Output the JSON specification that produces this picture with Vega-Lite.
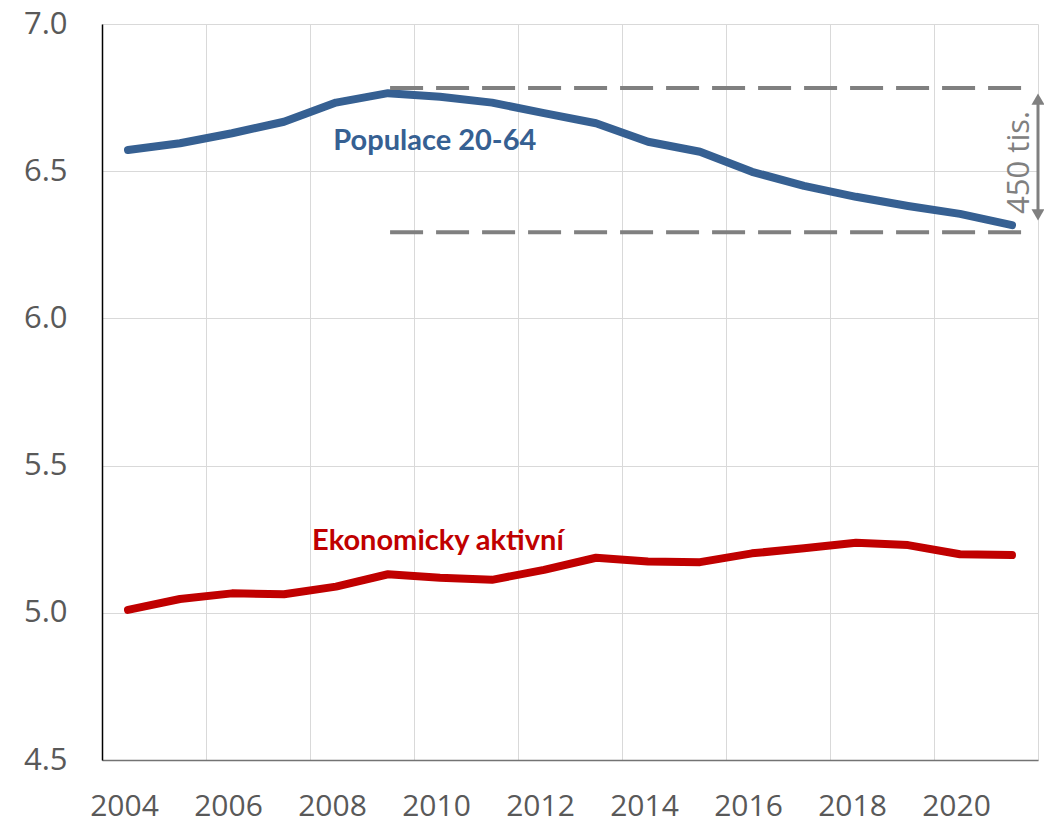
{
  "$schema": "https://vega.github.io/schema/vega-lite/v6.json",
  "autosize": {"type": "none"},
  "width": 936,
  "height": 736,
  "padding": {"left": 102, "top": 24, "right": 6, "bottom": 63},
  "background": "white",
  "config": {"view": {"stroke": null}},
  "datasets": {
    "series": [
      {"year": 2004, "series": "Populace 20-64", "value": 6.572},
      {"year": 2005, "series": "Populace 20-64", "value": 6.595},
      {"year": 2006, "series": "Populace 20-64", "value": 6.629},
      {"year": 2007, "series": "Populace 20-64", "value": 6.668},
      {"year": 2008, "series": "Populace 20-64", "value": 6.733},
      {"year": 2009, "series": "Populace 20-64", "value": 6.765},
      {"year": 2010, "series": "Populace 20-64", "value": 6.753},
      {"year": 2011, "series": "Populace 20-64", "value": 6.733},
      {"year": 2012, "series": "Populace 20-64", "value": 6.697},
      {"year": 2013, "series": "Populace 20-64", "value": 6.663},
      {"year": 2014, "series": "Populace 20-64", "value": 6.600},
      {"year": 2015, "series": "Populace 20-64", "value": 6.566},
      {"year": 2016, "series": "Populace 20-64", "value": 6.498},
      {"year": 2017, "series": "Populace 20-64", "value": 6.450},
      {"year": 2018, "series": "Populace 20-64", "value": 6.413},
      {"year": 2019, "series": "Populace 20-64", "value": 6.382},
      {"year": 2020, "series": "Populace 20-64", "value": 6.355},
      {"year": 2021, "series": "Populace 20-64", "value": 6.317},
      {"year": 2004, "series": "Ekonomicky aktivní", "value": 5.010},
      {"year": 2005, "series": "Ekonomicky aktivní", "value": 5.047},
      {"year": 2006, "series": "Ekonomicky aktivní", "value": 5.066},
      {"year": 2007, "series": "Ekonomicky aktivní", "value": 5.063},
      {"year": 2008, "series": "Ekonomicky aktivní", "value": 5.089},
      {"year": 2009, "series": "Ekonomicky aktivní", "value": 5.131},
      {"year": 2010, "series": "Ekonomicky aktivní", "value": 5.119},
      {"year": 2011, "series": "Ekonomicky aktivní", "value": 5.112},
      {"year": 2012, "series": "Ekonomicky aktivní", "value": 5.146},
      {"year": 2013, "series": "Ekonomicky aktivní", "value": 5.187},
      {"year": 2014, "series": "Ekonomicky aktivní", "value": 5.174},
      {"year": 2015, "series": "Ekonomicky aktivní", "value": 5.172},
      {"year": 2016, "series": "Ekonomicky aktivní", "value": 5.202},
      {"year": 2017, "series": "Ekonomicky aktivní", "value": 5.219},
      {"year": 2018, "series": "Ekonomicky aktivní", "value": 5.238},
      {"year": 2019, "series": "Ekonomicky aktivní", "value": 5.230},
      {"year": 2020, "series": "Ekonomicky aktivní", "value": 5.199},
      {"year": 2021, "series": "Ekonomicky aktivní", "value": 5.196}
    ],
    "refs": [
      {"x": 2009.04, "x2": 2021.38, "y": 6.783},
      {"x": 2009.04, "x2": 2021.38, "y": 6.293}
    ],
    "arrow": [
      {"x": 2021.5, "y": 6.74, "y2": 6.355}
    ],
    "heads": [
      {"x": 2021.5, "y": 6.745, "dir": "up"},
      {"x": 2021.5, "y": 6.352, "dir": "down"}
    ],
    "labels": [
      {"x": 2009.9, "y": 6.603, "text": "Populace 20-64", "series": "Populace 20-64"},
      {"x": 2009.96, "y": 5.244, "text": "Ekonomicky aktivní", "series": "Ekonomicky aktivní"}
    ],
    "note": [
      {"x": 2021.15, "y": 6.53, "text": "450 tis."}
    ]
  },
  "layer": [
    {
      "data": {"name": "series"},
      "mark": {"type": "line", "strokeWidth": 8, "strokeCap": "round", "strokeJoin": "round"},
      "encoding": {
        "x": {
          "field": "year", "type": "quantitative",
          "scale": {"domain": [2003.5, 2021.5], "nice": false, "zero": false},
          "axis": {
            "title": null,
            "values": [2003.5, 2005.5, 2007.5, 2009.5, 2011.5, 2013.5, 2015.5, 2017.5, 2019.5, 2021.5],
            "labelExpr": "datum.value > 2021 ? '' : format(datum.value + 0.5, 'd')",
            "labelOffset": 22,
            "labelFlush": false,
            "labelOverlap": false,
            "labelFont": "Open Sans",
            "labelFontSize": 30,
            "labelColor": "#595959",
            "labelPadding": 31,
            "ticks": false,
            "tickSize": 0,
            "domainColor": "#737373",
            "domainWidth": 1.5,
            "grid": true,
            "gridColor": "#d9d9d9",
            "gridWidth": 1
          }
        },
        "y": {
          "field": "value", "type": "quantitative",
          "scale": {"domain": [4.5, 7.0], "nice": false, "zero": false},
          "axis": {
            "title": null,
            "values": [4.5, 5.0, 5.5, 6.0, 6.5, 7.0],
            "format": ".1f",
            "labelFont": "Open Sans",
            "labelFontSize": 31,
            "labelColor": "#595959",
            "labelPadding": 35,
            "ticks": false,
            "tickSize": 0,
            "domainColor": "#000000",
            "domainWidth": 1.5,
            "grid": true,
            "gridColor": "#d9d9d9",
            "gridWidth": 1
          }
        },
        "color": {
          "field": "series", "type": "nominal",
          "scale": {"domain": ["Populace 20-64", "Ekonomicky aktivní"], "range": ["#366092", "#C00000"]},
          "legend": null
        }
      }
    },
    {
      "data": {"name": "refs"},
      "mark": {"type": "rule", "color": "#808080", "strokeWidth": 4, "strokeDash": [33, 13]},
      "encoding": {
        "x": {"field": "x", "type": "quantitative"},
        "x2": {"field": "x2"},
        "y": {"field": "y", "type": "quantitative"}
      }
    },
    {
      "data": {"name": "arrow"},
      "mark": {"type": "rule", "color": "#808080", "strokeWidth": 3},
      "encoding": {
        "x": {"field": "x", "type": "quantitative"},
        "y": {"field": "y", "type": "quantitative"},
        "y2": {"field": "y2"}
      }
    },
    {
      "data": {"name": "heads"},
      "mark": {"type": "point", "filled": true, "color": "#808080", "size": 170, "opacity": 1},
      "encoding": {
        "x": {"field": "x", "type": "quantitative"},
        "y": {"field": "y", "type": "quantitative"},
        "shape": {
          "field": "dir", "type": "nominal",
          "scale": {"domain": ["up", "down"], "range": ["triangle-up", "triangle-down"]},
          "legend": null
        }
      }
    },
    {
      "data": {"name": "labels"},
      "mark": {"type": "text", "font": "Lato", "fontWeight": "bold", "fontSize": 29, "align": "center", "baseline": "middle"},
      "encoding": {
        "x": {"field": "x", "type": "quantitative"},
        "y": {"field": "y", "type": "quantitative"},
        "text": {"field": "text"},
        "color": {"field": "series", "type": "nominal", "legend": null}
      }
    },
    {
      "data": {"name": "note"},
      "mark": {"type": "text", "font": "Open Sans", "fontSize": 31, "angle": 270, "align": "center", "baseline": "middle", "color": "#808080"},
      "encoding": {
        "x": {"field": "x", "type": "quantitative"},
        "y": {"field": "y", "type": "quantitative"},
        "text": {"field": "text"}
      }
    }
  ]
}
